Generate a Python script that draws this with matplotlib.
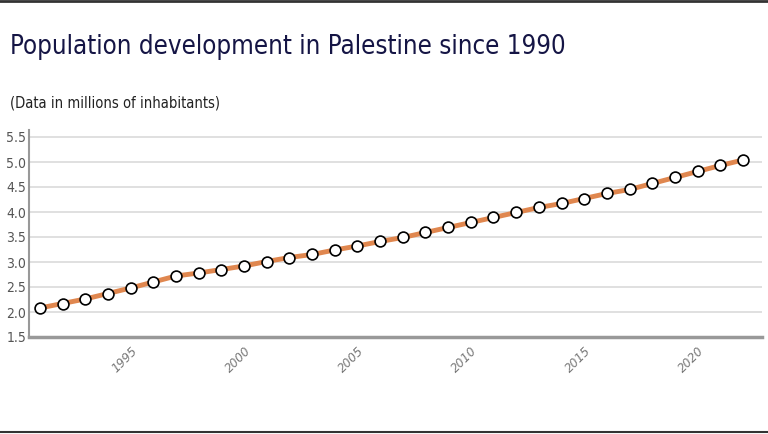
import matplotlib
matplotlib.use("Agg")
import matplotlib.pyplot as plt
from matplotlib.lines import Line2D

years = list(range(1991, 2023))
population = [2.08, 2.17, 2.26, 2.37, 2.48, 2.60, 2.72, 2.78, 2.85, 2.92,
              3.01, 3.09, 3.15, 3.24, 3.32, 3.41, 3.49, 3.59, 3.69, 3.79,
              3.89, 3.99, 4.09, 4.17, 4.27, 4.37, 4.45, 4.57, 4.69, 4.81,
              4.93, 5.04]
xticks = [1995, 2000, 2005, 2010, 2015, 2020]
yticks = [1.5, 2.0, 2.5, 3.0, 3.5, 4.0, 4.5, 5.0, 5.5]

FONT = ["DejaVu Sans"]
plt.rcParams['font.family'] = FONT
plt.rcParams['font.stretch'] = 'condensed'

fig = plt.figure(figsize=(7.68, 4.34), dpi=100)
ax = fig.add_axes([29/768, 1 - 337/434, (762-29)/768, (337-130)/434])

ax.plot(years, population, color="#e0874f", lw=3.5, zorder=3,
        marker="o", markersize=7.8, markerfacecolor="white",
        markeredgecolor="black", markeredgewidth=1.2)

ax.set_xlim(1990.52, 2022.84)
ax.set_ylim(1.5, 5.64)
ax.set_yticks(yticks)
ax.set_yticklabels([f"{v:.1f}" for v in yticks])
ax.set_xticks(xticks)
ax.set_xticklabels([str(v) for v in xticks], rotation=45, ha="right",
                   rotation_mode="anchor", color="#777777", fontstyle="italic")
ax.tick_params(axis="x", length=0, pad=5, labelsize=9.5)
ax.tick_params(axis="y", length=0, pad=2, labelsize=10, labelcolor="#555555")
ax.grid(axis="y", color="#dddddd", lw=1.3)
ax.set_axisbelow(True)
for s in ["top", "right"]:
    ax.spines[s].set_visible(False)
ax.spines["left"].set_color("#999999")
ax.spines["left"].set_linewidth(1.5)
ax.spines["bottom"].set_color("#999999")
ax.spines["bottom"].set_linewidth(2.5)

fig.text(10/768, 1 - 54/434, "Population development in Palestine since 1990",
         fontsize=18.5, color="#151545", ha="left", va="baseline")
fig.text(10/768, 1 - 107/434, "(Data in millions of inhabitants)",
         fontsize=10.6, color="#222222", ha="left", va="baseline")

fig.add_artist(Line2D([0, 1], [1 - 1/434, 1 - 1/434], transform=fig.transFigure,
                      color="#333333", lw=2))
fig.add_artist(Line2D([0, 1], [1 - 432/434, 1 - 432/434], transform=fig.transFigure,
                      color="#333333", lw=1.5))

fig.savefig("out.png", dpi=100)
